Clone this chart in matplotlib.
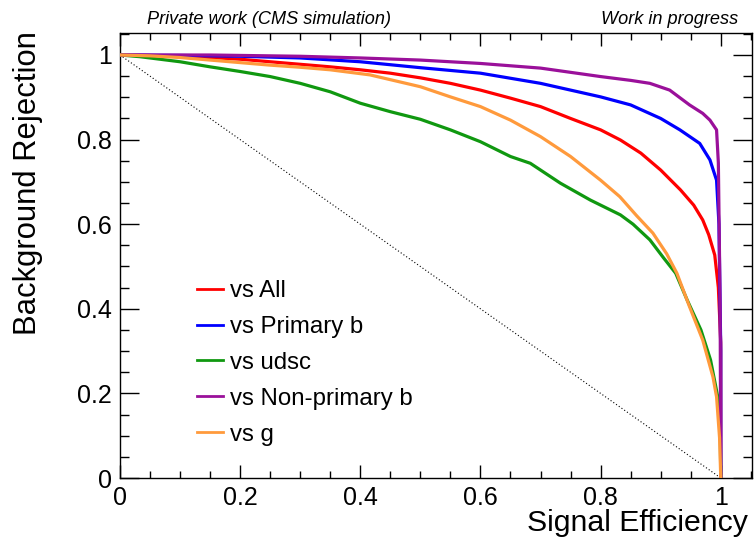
import matplotlib
matplotlib.use("Agg")
import matplotlib.pyplot as plt
from matplotlib.lines import Line2D
from matplotlib.ticker import MultipleLocator

plt.rcParams['font.family'] = ['Liberation Sans', 'DejaVu Sans']

# ---- data ----
x_all = [0, 0.05, 0.1, 0.15, 0.2, 0.25, 0.3, 0.35, 0.4, 0.45, 0.5, 0.55, 0.6, 0.65, 0.7,
         0.75, 0.8, 0.833, 0.867, 0.9, 0.933, 0.955, 0.97, 0.98, 0.99, 0.996, 1.0, 1.0]
y_all = [1, 0.999, 0.997, 0.994, 0.99, 0.984, 0.978, 0.972, 0.965, 0.957, 0.946, 0.933,
         0.917, 0.898, 0.878, 0.85, 0.823, 0.799, 0.768, 0.728, 0.681, 0.645, 0.61, 0.575,
         0.527, 0.45, 0.32, 0.0]

x_primb = [0, 0.1, 0.2, 0.3, 0.4, 0.5, 0.6, 0.7, 0.75, 0.8, 0.85, 0.9, 0.932, 0.965,
           0.982, 0.993, 0.997, 1.0, 1.0]
y_primb = [1, 0.999, 0.997, 0.993, 0.984, 0.970, 0.957, 0.933, 0.917, 0.901, 0.882, 0.850,
           0.823, 0.791, 0.752, 0.704, 0.6, 0.3, 0]

x_udsc = [0, 0.033, 0.1, 0.15, 0.2, 0.25, 0.3, 0.35, 0.4, 0.45, 0.5, 0.55, 0.6, 0.65, 0.683,
          0.733, 0.783, 0.833, 0.854, 0.882, 0.905, 0.925, 0.944, 0.967, 0.983, 0.995, 0.999, 1.0]
y_udsc = [1, 0.996, 0.984, 0.972, 0.961, 0.949, 0.933, 0.913, 0.886, 0.866, 0.848, 0.823,
          0.795, 0.760, 0.744, 0.697, 0.657, 0.622, 0.600, 0.563, 0.52, 0.484, 0.421, 0.35,
          0.279, 0.192, 0.135, 0]

x_nonprimb = [0, 0.15, 0.3, 0.4, 0.5, 0.6, 0.7, 0.8, 0.85, 0.882, 0.915, 0.948, 0.97,
              0.982, 0.993, 0.996, 0.999, 1.0]
y_nonprimb = [1, 1.0, 0.997, 0.993, 0.988, 0.98, 0.969, 0.949, 0.94, 0.933, 0.917, 0.882,
              0.862, 0.846, 0.823, 0.745, 0.4, 0]

x_g = [0, 0.05, 0.1, 0.15, 0.2, 0.25, 0.3, 0.35, 0.416, 0.5, 0.55, 0.6, 0.65, 0.7, 0.75,
       0.8, 0.832, 0.86, 0.887, 0.91, 0.927, 0.948, 0.97, 0.987, 0.993, 0.998, 1.0]
y_g = [1, 0.998, 0.994, 0.988, 0.982, 0.976, 0.971, 0.965, 0.953, 0.925, 0.901, 0.878,
       0.846, 0.807, 0.760, 0.704, 0.665, 0.62, 0.579, 0.53, 0.484, 0.405, 0.326, 0.239,
       0.192, 0.095, 0]

series_labels = ["vs All", "vs Primary b", "vs udsc", "vs Non-primary b", "vs g"]
series_colors = ["#ff0000", "#0000ff", "#109810", "#9a109a", "#ff9a3c"]
series_x = [x_all, x_primb, x_udsc, x_nonprimb, x_g]
series_y = [y_all, y_primb, y_udsc, y_nonprimb, y_g]

tick_values = [0, 0.2, 0.4, 0.6, 0.8, 1.0]
tick_labels = ["0", "0.2", "0.4", "0.6", "0.8", "1"]

xlabel = "Signal Efficiency"
ylabel = "Background Rejection"
left_text = "Private work (CMS simulation)"
right_text = "Work in progress"

# ---- figure ----
W, H = 756, 538
fig = plt.figure(figsize=(W / 100, H / 100), dpi=100)
ax = fig.add_axes([120 / W, 1 - 478 / H, (752 - 120) / W, (478 - 33) / H])

ax.plot([0, 1], [1, 0], ls=(0, (1, 2)), color="black", lw=0.8, zorder=1)

draw_order = [2, 4, 0, 1, 3]
for i in draw_order:
    ax.plot(series_x[i], series_y[i], color=series_colors[i], lw=2.3,
            solid_joinstyle="round", zorder=2 + i)

ax.set_xlim(0, 1.052)
ax.set_ylim(0, 1.052)

ax.xaxis.set_minor_locator(MultipleLocator(0.05))
ax.yaxis.set_minor_locator(MultipleLocator(0.05))
ax.set_xticks(tick_values)
ax.set_xticklabels(tick_labels)
ax.set_yticks(tick_values)
ax.set_yticklabels(tick_labels)

ax.tick_params(axis="both", which="both", direction="in", top=True, right=True,
               labelsize=18, width=1.0, colors="black")
ax.tick_params(axis="x", which="major", length=9.5, pad=6)
ax.tick_params(axis="x", which="minor", length=4.8)
ax.tick_params(axis="y", which="major", length=13.5, pad=6)
ax.tick_params(axis="y", which="minor", length=6.8)
for s in ax.spines.values():
    s.set_linewidth(1.0)

fig.text(748 / W, 1 - 531 / H, xlabel, ha="right", va="baseline", fontsize=21.8)
fig.text(28 / W, 1 - 31 / H, ylabel, ha="center", va="top", rotation=90, fontsize=22.3)

fig.text(147 / W, 1 - 19 / H, left_text, ha="left", va="center", fontsize=13.1, style="italic")
fig.text(738 / W, 1 - 19 / H, right_text, ha="right", va="center", fontsize=13.1, style="italic")

handles = [Line2D([0], [0], color=c, lw=2.0) for c in series_colors]
leg = ax.legend(handles, series_labels, loc="upper left",
                bbox_to_anchor=(197 / W, 1 - 280 / H), bbox_transform=fig.transFigure,
                frameon=False, fontsize=17.3, handlelength=1.08, handletextpad=0.3,
                labelspacing=0.58, borderpad=0, borderaxespad=0)

fig.savefig("out.png", dpi=100)
